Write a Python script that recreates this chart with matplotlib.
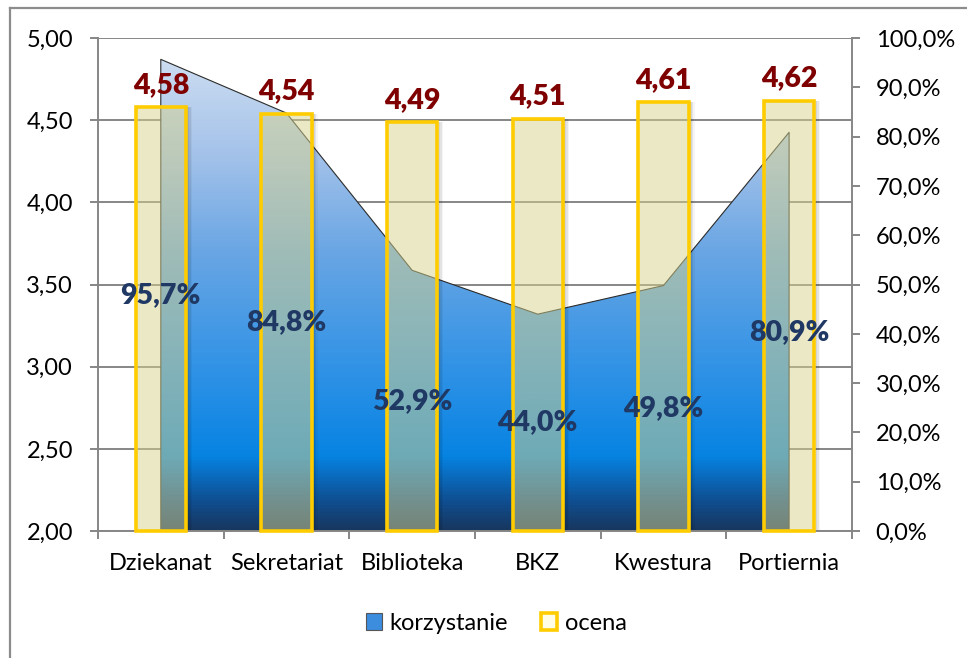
import matplotlib
matplotlib.use('Agg')
import matplotlib.pyplot as plt
import matplotlib.ticker as ticker
import numpy as np
from matplotlib.colors import LinearSegmentedColormap, to_rgba
from matplotlib.patches import Patch
from matplotlib.lines import Line2D

plt.rcParams['font.family'] = ['Lato', 'DejaVu Sans']

categories = ['Dziekanat', 'Sekretariat', 'Biblioteka', 'BKZ', 'Kwestura', 'Portiernia']
ocena = [4.58, 4.54, 4.49, 4.51, 4.61, 4.62]
korzystanie = [0.957, 0.848, 0.529, 0.440, 0.498, 0.809]

left_ticks = [2.0, 2.5, 3.0, 3.5, 4.0, 4.5, 5.0]
right_ticks = [0.0, 0.1, 0.2, 0.3, 0.4, 0.5, 0.6, 0.7, 0.8, 0.9, 1.0]

grey = '#868686'
tick_fs = 17

fig = plt.figure(figsize=(9.67, 6.58), dpi=100)
ax = fig.add_axes([0.1013, 0.193, 0.7797, 0.749])
ax2 = ax.twinx()
ax.set_zorder(ax2.get_zorder() + 1)
ax.patch.set_visible(False)

x = np.arange(len(categories))
ax.set_xlim(-0.5, len(categories) - 0.5)
ax.set_ylim(left_ticks[0], left_ticks[-1])
ax2.set_ylim(0, 1)

# gridlines live on the back axis so the area hides them
for t in left_ticks:
    ax2.axhline((t - left_ticks[0]) / (left_ticks[-1] - left_ticks[0]),
                color=grey, lw=1.4, zorder=0)

# area with vertical gradient
cmap = LinearSegmentedColormap.from_list('area_grad', [
    (0.0, '#17375F'), (0.06, '#0F4F92'), (0.15, '#0683E2'), (0.3, '#2A90E6'),
    (0.57, '#6AA6E4'), (0.77, '#A5C3EA'), (1.0, '#D5E2F3')])
poly = ax2.fill_between(x, 0, korzystanie, facecolor='none', edgecolor='#2b2b2b',
                        lw=0.8, zorder=2)
grad = np.linspace(0, 1, 400).reshape(-1, 1)
im = ax2.imshow(grad, cmap=cmap, origin='lower', aspect='auto',
                extent=[x[0], x[-1], 0, 1], zorder=1)
im.set_clip_path(poly.get_paths()[0], transform=ax2.transData)
ax2.set_xlim(-0.5, len(categories) - 0.5)

# bars: soft shadow then semi-transparent fill
for k, a in enumerate([0.10, 0.07, 0.04]):
    ax.bar(x + 0.2 + 0.012 * k, np.array(ocena) - left_ticks[0], width=0.025,
           bottom=left_ticks[0], align='edge', color='black', alpha=a, lw=0, zorder=2)
bars = ax.bar(x, np.array(ocena) - left_ticks[0], width=0.4, bottom=left_ticks[0],
              facecolor=to_rgba('#D6D28C', 0.5), edgecolor='#FFCC00', lw=2.6, zorder=3)
for b in bars:
    b.set_clip_on(False)

for xi, v in zip(x, ocena):
    ax.annotate(f'{v:.2f}'.replace('.', ','), (xi, v), xytext=(0, 16),
                textcoords='offset points', ha='center', va='center',
                fontsize=20.5, fontweight='heavy', color='#7F0000', zorder=6)

# percent labels sit on top of the bars, positioned on the right-hand scale
for xi, v in zip(x, korzystanie):
    ax.text(xi, v / 2, f'{v * 100:.1f}%'.replace('.', ','), transform=ax2.transData,
            ha='center', va='center', fontsize=20.5, fontweight='heavy',
            color='#1F3864', zorder=6)

# axes styling
for side in ['top', 'right']:
    ax.spines[side].set_visible(False)
for side in ['top', 'left', 'bottom']:
    ax2.spines[side].set_visible(False)
ax.spines['left'].set_color(grey)
ax.spines['bottom'].set_color(grey)
ax2.spines['right'].set_color(grey)
for sp in [ax.spines['left'], ax.spines['bottom'], ax2.spines['right']]:
    sp.set_linewidth(1.4)

ax.set_yticks(left_ticks)
ax.set_yticklabels([f'{t:.2f}'.replace('.', ',') for t in left_ticks])
ax2.set_yticks(right_ticks)
ax2.set_yticklabels([f'{t * 100:.1f}%'.replace('.', ',') for t in right_ticks])
ax.tick_params(axis='y', length=6, width=1.4, color=grey, pad=12, labelsize=tick_fs)
ax2.tick_params(axis='y', length=6, width=1.4, color=grey, pad=11, labelsize=tick_fs)

ax.set_xticks(x)
ax.set_xticklabels(categories)
ax.xaxis.set_minor_locator(ticker.FixedLocator(np.arange(-0.5, len(categories), 1.0)))
ax.tick_params(axis='x', which='major', length=0, pad=16, labelsize=tick_fs)
ax.tick_params(axis='x', which='minor', length=6, width=1.4, color=grey)

handles = [Patch(facecolor='#3C8DDE', edgecolor='#555555', lw=0.8),
           Patch(facecolor='#FFFDE5', edgecolor='#FFCC00', lw=2.6)]
fig.legend(handles, ['korzystanie', 'ocena'], loc='center', bbox_to_anchor=(0.513, 0.053),
           ncol=2, frameon=False, fontsize=tick_fs, handlelength=0.7, handleheight=0.7,
           handletextpad=0.3, columnspacing=1.4)

# chart frame (only left and top edges are visible)
fig.add_artist(Line2D([0.0103, 0.0103], [0, 0.988], color='#8c8c8c', lw=1.6))
fig.add_artist(Line2D([0.0103, 1.0], [0.988, 0.988], color='#8c8c8c', lw=1.6))

fig.savefig('out.png', dpi=100, facecolor='white')
